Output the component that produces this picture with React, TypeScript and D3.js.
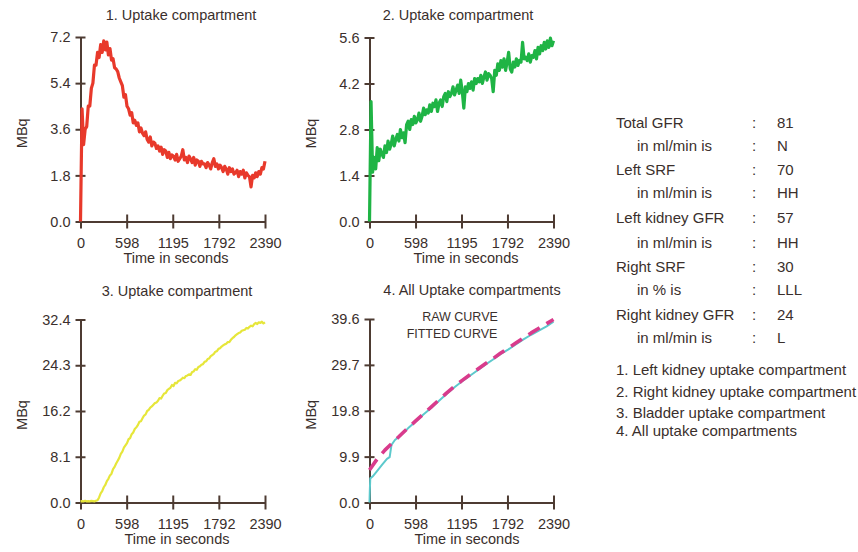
import React, { useEffect, useRef } from 'react';
import * as d3 from 'd3';

const FONT = '"Liberation Sans", Arial, Helvetica, sans-serif';
const AXIS_COLOR = '#4d3b32';
const TEXT_COLOR = '#3a2f2c';

const TIME_MAX = 2390;
const timeTicks = [0, 598, 1195, 1792, 2390];

// 1. left kidney (MBq), evenly sampled over 0..2390 s
const leftKidney = [
  0.0, 4.4, 3.0, 3.6, 3.7, 4.5, 4.5, 5.2, 5.4, 6.1,
  6.1, 6.6, 6.4, 6.9, 6.6, 7.05, 6.7, 7.0, 6.5, 6.75,
  6.3, 6.35, 6.0, 5.95, 5.85, 5.6, 5.45, 5.3, 4.85, 4.95,
  4.5, 4.4, 4.15, 4.25, 3.85, 3.95, 3.75, 3.85, 3.5, 3.65,
  3.45, 3.35, 3.5, 3.2, 3.1, 3.3, 2.95, 3.1, 3.05, 2.85,
  2.95, 2.75, 2.9, 2.62, 2.8, 2.75, 2.5, 2.7, 2.45, 2.6,
  2.55, 2.4, 2.62, 2.35, 2.45, 2.55, 2.8, 2.4, 2.5, 2.3,
  2.55, 2.45, 2.3, 2.5, 2.2, 2.4, 2.35, 2.15, 2.35, 2.25,
  2.25, 2.1, 2.3, 2.2, 2.05, 2.3, 2.45, 2.15, 2.25, 2.05,
  2.2, 2.1, 1.95, 2.15, 2.05, 1.85, 2.1, 1.95, 2.05, 1.85,
  1.9, 2.0, 1.75, 1.95, 1.85, 2.0, 1.7, 1.9, 1.8, 1.75,
  1.35, 1.8, 1.7, 1.9, 1.75, 1.95, 1.85, 2.1, 2.05, 2.35,
];

// 2. right kidney
const rightKidney = [
  0.0, 3.65, 1.5, 1.95, 1.6, 2.25, 1.85, 2.2, 2.05, 1.95,
  2.3, 2.1, 2.45, 2.2, 2.35, 2.6, 2.3, 2.5, 2.65, 2.45,
  2.8, 2.55, 2.7, 2.4, 2.95, 3.05, 2.8, 3.1, 2.95, 3.2,
  3.0, 3.1, 3.3, 3.05, 3.2, 3.45, 3.25, 3.4, 3.3, 3.55,
  3.35, 3.6, 3.5, 3.7, 3.35, 3.6, 3.7, 3.5, 3.8, 3.9,
  3.65, 3.95, 3.8, 3.9, 4.1, 3.85, 4.0, 4.15, 3.9, 4.3,
  3.95, 3.45, 4.1, 3.95, 4.2, 4.05, 4.25, 4.0, 4.35, 4.2,
  4.35, 4.25, 4.45, 4.2, 4.4, 4.55, 4.3, 4.5, 4.45, 4.35,
  3.95, 4.6, 4.45, 4.8, 4.6, 4.9, 4.7, 4.95, 4.6, 4.85,
  5.15, 4.65, 4.55, 4.85, 4.7, 4.95, 4.75, 4.9, 4.85, 5.45,
  4.95, 5.0, 4.9, 5.1, 4.85, 5.05, 5.0, 5.2, 4.95, 5.3,
  5.1, 5.35, 5.2, 5.45, 5.25, 5.5, 5.3, 5.58, 5.35, 5.5,
];

// 3. bladder
const bladder = [
  0.2, 0.25, 0.2, 0.3, 0.2, 0.25, 0.2, 0.3, 0.25, 0.2,
  0.3, 0.4, 0.9, 1.6, 2.0, 2.7, 3.1, 3.8, 4.2, 4.8,
  5.1, 5.9, 6.3, 6.9, 7.4, 7.9, 8.6, 9.0, 9.7, 10.1,
  10.5, 11.2, 11.4, 12.1, 12.4, 13.0, 13.3, 13.7, 14.3, 14.4,
  14.9, 15.4, 15.6, 16.2, 16.4, 16.8, 17.0, 17.3, 17.6, 17.7,
  18.0, 18.5, 18.4, 18.9, 19.3, 19.4, 19.9, 20.1, 20.3, 20.8,
  20.6, 21.2, 21.1, 21.5, 21.6, 21.8, 22.1, 22.0, 22.4, 22.5,
  22.7, 22.6, 23.1, 23.2, 23.6, 23.5, 24.0, 24.1, 24.4, 24.5,
  24.9, 25.0, 25.4, 25.5, 25.9, 26.1, 26.3, 26.7, 26.8, 27.2,
  27.3, 27.6, 27.8, 28.0, 28.1, 28.4, 28.4, 28.8, 29.1, 29.3,
  29.6, 29.8, 30.0, 30.1, 30.4, 30.5, 30.6, 30.9, 30.8, 31.1,
  31.3, 31.2, 31.6, 31.8, 31.6, 31.9, 31.8, 32.0, 31.7, 31.9,
];

// 4. all compartments: raw and fitted curves
const rawTimes = [0, 4, 10, 40, 90, 162, 227, 262, 285, 330, 400, 500, 600, 700, 800, 900, 1000, 1100, 1200, 1300, 1400, 1500, 1600, 1700, 1800, 1900, 2000, 2100, 2200, 2300, 2390];
const rawValues = [0, 2.5, 5.2, 5.6, 6.6, 8.1, 9.4, 9.8, 12.4, 13.5, 14.4, 16.0, 17.5, 19.0, 20.4, 21.9, 23.4, 24.8, 26.1, 27.3, 28.5, 29.7, 30.8, 32.0, 33.0, 34.1, 35.2, 36.2, 37.1, 38.0, 39.0];
const fittedTimes = [0, 100, 200, 300, 400, 500, 600, 700, 800, 900, 1000, 1100, 1200, 1300, 1400, 1500, 1600, 1700, 1800, 1900, 2000, 2100, 2200, 2300, 2390];
const fittedValues = [7.0, 9.4, 11.3, 12.9, 14.5, 16.1, 17.6, 19.1, 20.6, 22.1, 23.6, 25.0, 26.3, 27.5, 28.7, 29.9, 31.0, 32.2, 33.3, 34.4, 35.5, 36.6, 37.6, 38.6, 39.5];

const yTicks1 = [0, 1.8, 3.6, 5.4, 7.2];
const yTicks2 = [0, 1.4, 2.8, 4.2, 5.6];
const yTicks3 = [0, 8.1, 16.2, 24.3, 32.4];
const yTicks4 = [0, 9.9, 19.8, 29.7, 39.6];

const panelTitles = ['1. Uptake compartment', '2. Uptake compartment', '3. Uptake compartment', '4.  All Uptake compartments'];
const curveLabels = ['RAW CURVE', 'FITTED CURVE'];

const resultLabels = ['Total GFR', 'in ml/min is', 'Left SRF', 'in ml/min is', 'Left kidney GFR', 'in ml/min is', 'Right SRF', 'in % is', 'Right kidney GFR', 'in ml/min is'];
const resultValues = ['81', 'N', '70', 'HH', '57', 'HH', '30', 'LLL', '24', 'L'];
const legendItems = ['1. Left kidney uptake compartment', '2. Right kidney uptake compartment', '3. Bladder uptake compartment', '4. All uptake compartments'];

const evenSeries = (vals: number[]) => vals.map((v, i) => [(i * TIME_MAX) / (vals.length - 1), v] as [number, number]);
const pairSeries = (ts: number[], vs: number[]) => ts.map((t, i) => [t, vs[i]] as [number, number]);

const panels = [
  { title: panelTitles[0], yTicks: yTicks1, l: 80.5, r: 265, t: 37, b: 221.5, titleX: 181, titleY: 15, xLabelX: 176,
    series: [{ pts: evenSeries(leftKidney), color: '#e8392b', width: 3.2 }] },
  { title: panelTitles[1], yTicks: yTicks2, l: 369.5, r: 553.5, t: 37.5, b: 221.5, titleX: 458, titleY: 15, xLabelX: 466,
    series: [{ pts: evenSeries(rightKidney), color: '#1fb445', width: 3.2 }] },
  { title: panelTitles[2], yTicks: yTicks3, l: 80.5, r: 265, t: 319.5, b: 502.5, titleX: 177, titleY: 291, xLabelX: 177,
    series: [{ pts: evenSeries(bladder), color: '#e6e63a', width: 2.2 }] },
  { title: panelTitles[3], yTicks: yTicks4, l: 369.5, r: 553.5, t: 319, b: 502.5, titleX: 472, titleY: 290, xLabelX: 467,
    series: [
      { pts: pairSeries(rawTimes, rawValues), color: '#5cc9cc', width: 2 },
      { pts: pairSeries(fittedTimes, fittedValues), color: '#d93b8c', width: 3.6, dash: '13 8' },
    ] },
];

const drawChart = (container: SVGSVGElement) => {
  const svg = d3.select(container);
  svg.selectAll('*').remove();

  panels.forEach((p, pi) => {
    const x = d3.scaleLinear().domain([0, TIME_MAX]).range([p.l, p.r]);
    const y = d3.scaleLinear().domain([0, p.yTicks[p.yTicks.length - 1]]).range([p.b, p.t]);
    const g = svg.append('g');

    const yAxis = g.append('g')
      .attr('transform', `translate(${p.l},0)`)
      .call(d3.axisLeft(y).tickValues(p.yTicks).tickFormat(d3.format('.1f')).tickSizeInner(5).tickSizeOuter(0).tickPadding(5));
    yAxis.selectAll('.tick line').attr('x1', 5);

    const xAxis = g.append('g')
      .attr('transform', `translate(0,${p.b})`)
      .call(d3.axisBottom(x).tickValues(timeTicks).tickFormat(d3.format('d')).tickSizeInner(7).tickSizeOuter(0).tickPadding(9));
    xAxis.selectAll('.tick line').attr('y1', -7);

    [yAxis, xAxis].forEach(a => {
      a.attr('color', AXIS_COLOR).attr('font-family', FONT).attr('font-size', 14.5);
      a.selectAll('path.domain').attr('stroke-width', 2);
      a.selectAll('.tick line').attr('stroke-width', 2);
      a.selectAll('.tick text').attr('fill', TEXT_COLOR);
    });

    p.series.forEach(s => {
      const line = d3.line<[number, number]>().x(d => x(d[0])).y(d => y(d[1]));
      g.append('path')
        .datum(s.pts)
        .attr('d', line)
        .attr('fill', 'none')
        .attr('stroke', s.color)
        .attr('stroke-width', s.width)
        .attr('stroke-linejoin', 'round')
        .attr('stroke-dasharray', (s as any).dash || null);
    });

    g.append('text')
      .attr('x', p.titleX).attr('y', p.titleY).attr('dy', '0.35em')
      .attr('text-anchor', 'middle')
      .text(p.title);

    g.append('text')
      .attr('transform', `translate(${p.l - 59},${(p.t + p.b) / 2 + 4}) rotate(-90)`)
      .attr('dy', '0.35em')
      .attr('text-anchor', 'middle')
      .text('MBq');

    g.append('text')
      .attr('x', p.xLabelX).attr('y', p.b + 36.5).attr('dy', '0.35em')
      .attr('text-anchor', 'middle')
      .text('Time in seconds');

    if (pi === 3) {
      g.append('text').attr('x', 460).attr('y', 317).attr('dy', '0.35em')
        .attr('text-anchor', 'middle').attr('font-size', 12.5).text(curveLabels[0]);
      g.append('text').attr('x', 452).attr('y', 334).attr('dy', '0.35em')
        .attr('text-anchor', 'middle').attr('font-size', 12.5).text(curveLabels[1]);
    }
  });

  const rowY = [123, 146, 170, 193, 218, 243, 267, 290, 315, 338];
  const info = svg.append('g').attr('font-size', 15);
  resultLabels.forEach((lab, i) => {
    const indented = i % 2 === 1;
    info.append('text').attr('x', indented ? 637 : 616).attr('y', rowY[i]).attr('dy', '0.35em').text(lab);
    info.append('text').attr('x', 752).attr('y', rowY[i]).attr('dy', '0.35em').text(':');
    info.append('text').attr('x', 777).attr('y', rowY[i]).attr('dy', '0.35em').text(resultValues[i]);
  });

  const legY = [370, 392, 413, 431];
  legendItems.forEach((item, i) => {
    info.append('text').attr('x', 616).attr('y', legY[i]).attr('dy', '0.35em').text(item);
  });
};

const App = () => {
  const ref = useRef<SVGSVGElement>(null);

  useEffect(() => {
    if (ref.current) {
      drawChart(ref.current);
    }
  }, []);

  return (
    <svg
      ref={ref}
      width={858}
      height={552}
      fontFamily={FONT}
      fontSize={14.5}
      fill={TEXT_COLOR}
      style={{ position: 'absolute', left: 0, top: 0, background: '#fff' }}
    />
  );
};

export default App;
